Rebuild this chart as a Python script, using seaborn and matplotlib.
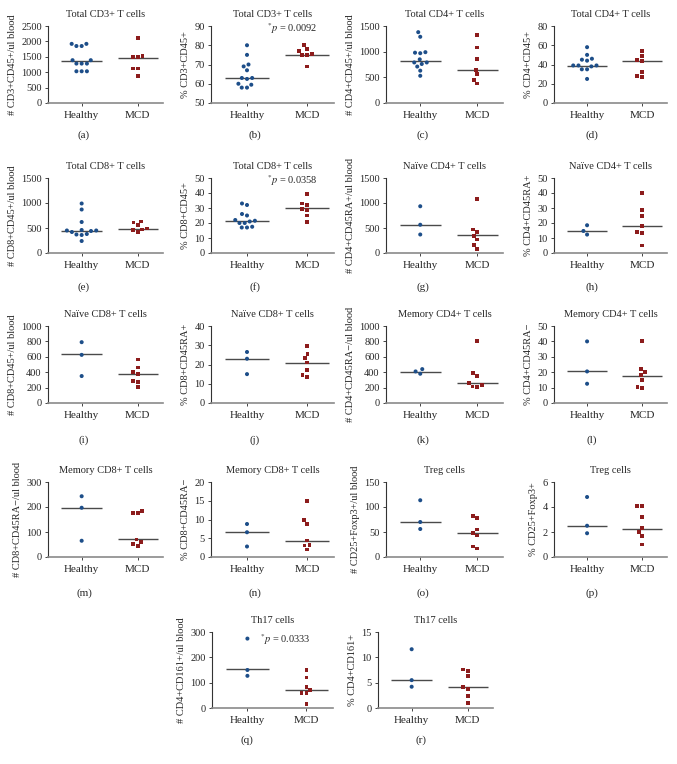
import numpy as np
import pandas as pd
import matplotlib
matplotlib.use("Agg")
import matplotlib.pyplot as plt
import seaborn as sns

sns.set_style("ticks")
plt.rcParams['font.family'] = ['Liberation Serif', 'DejaVu Serif']
plt.rcParams['mathtext.fontset'] = 'stix'

groups = ["Healthy", "MCD"]

# values: healthy dots, MCD squares, median bars
a_healthy = [1920, 1850, 1850, 1920, 1390, 1390, 1280, 1280, 1280, 1030, 1030, 1030]
a_mcd = [2120, 1530, 1500, 1500, 1120, 1120, 870]
a_lines = [1370, 1470]

b_healthy = [80, 75, 70, 69, 67, 63, 62.5, 63, 60, 59.5, 58, 58]
b_mcd = [80, 78, 77, 75, 75, 75.5, 69]
b_lines = [63, 75]

c_healthy = [1380, 1290, 970, 980, 990, 850, 790, 760, 790, 710, 630, 530]
c_mcd = [1330, 1080, 860, 650, 560, 450, 380]
c_lines = [820, 650]

d_healthy = [58, 50, 46, 45, 44, 39, 38, 39, 39, 35, 35, 25]
d_mcd = [54, 49, 45, 44, 32, 28, 27]
d_lines = [38.5, 43.5]

e_healthy = [990, 870, 620, 460, 450, 450, 440, 380, 370, 360, 420, 240]
e_mcd = [630, 610, 560, 490, 470, 460, 420]
e_lines = [437, 483]

f_healthy = [33, 32, 26, 25, 22, 21.5, 21, 20, 20, 17, 17, 17.5]
f_mcd = [39.5, 33, 32, 29.5, 28.5, 25, 20.5]
f_lines = [21.5, 29.8]

g_healthy = [935, 565, 370]
g_mcd = [1075, 470, 420, 345, 270, 160, 85]
g_lines = [568, 355]

h_healthy = [18.5, 14.7, 12.3]
h_mcd = [40, 28.5, 24.6, 18, 14, 13.5, 5]
h_lines = [14.7, 18]

i_healthy = [790, 625, 350]
i_mcd = [565, 460, 400, 375, 290, 275, 210]
i_lines = [630, 373]

j_healthy = [26.5, 23, 15]
j_mcd = [29.5, 25.5, 23.3, 21, 17, 14.5, 13.5]
j_lines = [23, 21]

k_healthy = [440, 380, 410]
k_mcd = [810, 390, 355, 260, 235, 215, 205]
k_lines = [409, 258]

l_healthy = [40, 20.5, 12.5]
l_mcd = [40.5, 22, 20, 18, 15, 10.5, 9.5]
l_lines = [20.5, 17.8]

m_healthy = [243, 197, 65]
m_mcd = [185, 175, 175, 70, 60, 52, 45]
m_lines = [197, 71]

n_healthy = [8.8, 6.6, 2.8]
n_mcd = [15, 9.8, 8.8, 4.4, 3.2, 3.1, 2.0]
n_lines = [6.6, 4.4]

o_healthy = [113.5, 70, 56]
o_mcd = [82, 78, 55, 48, 43, 21, 17]
o_lines = [70, 48]

p_healthy = [4.8, 2.5, 1.9]
p_mcd = [4.1, 4.1, 3.2, 2.3, 2.0, 1.7, 1.0]
p_lines = [2.5, 2.25]

q_healthy = [274, 150, 127]
q_mcd = [150, 120, 84, 72, 60, 60, 15]
q_lines = [152, 72]

r_healthy = [11.6, 5.5, 4.2]
r_mcd = [7.6, 7.3, 6.3, 4.1, 3.8, 2.3, 1.0]
r_lines = [5.5, 4.1]

# (letter, healthy, mcd, lines, title, ylabel, ylim, step, p-value text)
panels = [
    ("a", a_healthy, a_mcd, a_lines, "Total CD3+ T cells", "# CD3+CD45+/ul blood", (0, 2500), 500, None),
    ("b", b_healthy, b_mcd, b_lines, "Total CD3+ T cells", "% CD3+CD45+", (50, 90), 10, "0.0092"),
    ("c", c_healthy, c_mcd, c_lines, "Total CD4+ T cells", "# CD4+CD45+/ul blood", (0, 1500), 500, None),
    ("d", d_healthy, d_mcd, d_lines, "Total CD4+ T cells", "% CD4+CD45+", (0, 80), 20, None),
    ("e", e_healthy, e_mcd, e_lines, "Total CD8+ T cells", "# CD8+CD45+/ul blood", (0, 1500), 500, None),
    ("f", f_healthy, f_mcd, f_lines, "Total CD8+ T cells", "% CD8+CD45+", (0, 50), 10, "0.0358"),
    ("g", g_healthy, g_mcd, g_lines, "Naïve CD4+ T cells", "# CD4+CD45RA+/ul blood", (0, 1500), 500, None),
    ("h", h_healthy, h_mcd, h_lines, "Naïve CD4+ T cells", "% CD4+CD45RA+", (0, 50), 10, None),
    ("i", i_healthy, i_mcd, i_lines, "Naïve CD8+ T cells", "# CD8+CD45+/ul blood", (0, 1000), 200, None),
    ("j", j_healthy, j_mcd, j_lines, "Naïve CD8+ T cells", "% CD8+CD45RA+", (0, 40), 10, None),
    ("k", k_healthy, k_mcd, k_lines, "Memory CD4+ T cells", "# CD4+CD45RA\u2212/ul blood", (0, 1000), 200, None),
    ("l", l_healthy, l_mcd, l_lines, "Memory CD4+ T cells", "% CD4+CD45RA\u2212", (0, 50), 10, None),
    ("m", m_healthy, m_mcd, m_lines, "Memory CD8+ T cells", "# CD8+CD45RA\u2212/ul blood", (0, 300), 100, None),
    ("n", n_healthy, n_mcd, n_lines, "Memory CD8+ T cells", "% CD8+CD45RA\u2212", (0, 20), 5, None),
    ("o", o_healthy, o_mcd, o_lines, "Treg cells", "# CD25+Foxp3+/ul blood", (0, 150), 50, None),
    ("p", p_healthy, p_mcd, p_lines, "Treg cells", "% CD25+Foxp3+", (0, 6), 2, None),
    ("q", q_healthy, q_mcd, q_lines, "Th17 cells", "# CD4+CD161+/ul blood", (0, 300), 100, "0.0333"),
    ("r", r_healthy, r_mcd, r_lines, "Th17 cells", "% CD4+CD161+", (0, 15), 5, None),
]

BLUE = "#1d4e89"
RED = "#8c1c1c"
LINE = "#4a4a4a"

W, H = 677, 764
fig = plt.figure(figsize=(W / 100, H / 100), dpi=100)

# layout in pixels
col_geom = [(48, 115), (211, 123), (386, 117), (554, 113)]
last_geom = [(212, 121), (378, 115)]
row_geom = [(26, 103), (178, 253), (326, 403), (482, 557), (632, 708)]
cap_y = [135, 287, 440, 593, 740]
cap_x = [84, 255, 423, 592]
last_cap_x = [247, 421]
p_pos = {"b": (0.33, None), "f": (0.33, None), "q": (0.22, 272)}


def draw(ax, healthy, mcd, lines, title, ylabel, ylim, step, pval, letter):
    df = pd.DataFrame({
        "group": ["Healthy"] * len(healthy) + ["MCD"] * len(mcd),
        "value": healthy + mcd,
    })
    sns.swarmplot(data=df[df.group == "Healthy"], x="group", y="value", order=groups,
                  color=BLUE, marker="o", size=2.9, ax=ax)
    sns.swarmplot(data=df[df.group == "MCD"], x="group", y="value", order=groups,
                  color=RED, marker="s", size=2.7, ax=ax)
    # invisible edge widens the swarm spacing a little, like the original
    for coll in ax.collections:
        coll.set_edgecolor("none")
        coll.set_linewidth(0.7)
    for i, v in enumerate(lines):
        ax.hlines(v, i - 0.36, i + 0.36, color=LINE, lw=1.0, zorder=1)

    ax.set_xlim(-0.6, 1.45)
    ax.set_ylim(*ylim)
    ax.set_yticks(np.arange(ylim[0], ylim[1] + step / 2, step))
    ax.set_xlabel("")
    ax.set_ylabel(ylabel, fontsize=7.5, labelpad=3)
    ax.set_title(title, fontsize=7.5, pad=6.5)
    sns.despine(ax=ax)
    ax.spines["left"].set_color("#333333")
    ax.spines["left"].set_linewidth(0.8)
    ax.spines["bottom"].set_color("#8a8a8a")
    ax.spines["bottom"].set_linewidth(1.2)
    ax.tick_params(axis="y", labelsize=7.5, length=2.5, width=0.6, pad=2)
    ax.tick_params(axis="x", labelsize=8, length=2, width=0.6, pad=4)

    if pval:
        px, py = p_pos[letter]
        if py is None:
            py = ylim[1] - (ylim[1] - ylim[0]) * 0.03
        ax.text(px, py, r"$^{*}p$ = " + pval, fontsize=7.5, ha="left", va="center")


for idx, (letter, healthy, mcd, lines, title, ylabel, ylim, step, pval) in enumerate(panels):
    row = idx // 4
    if row < 4:
        col = idx % 4
        left, width = col_geom[col]
        cx = cap_x[col]
    else:
        col = idx - 16
        left, width = last_geom[col]
        cx = last_cap_x[col]
    top, bottom = row_geom[row]
    ax = fig.add_axes([left / W, 1 - bottom / H, width / W, (bottom - top) / H])
    draw(ax, healthy, mcd, lines, title, ylabel, ylim, step, pval, letter)
    fig.text(cx / W, 1 - cap_y[row] / H, f"({letter})", fontsize=8, ha="center", va="center")

fig.savefig("out.png", dpi=100)
